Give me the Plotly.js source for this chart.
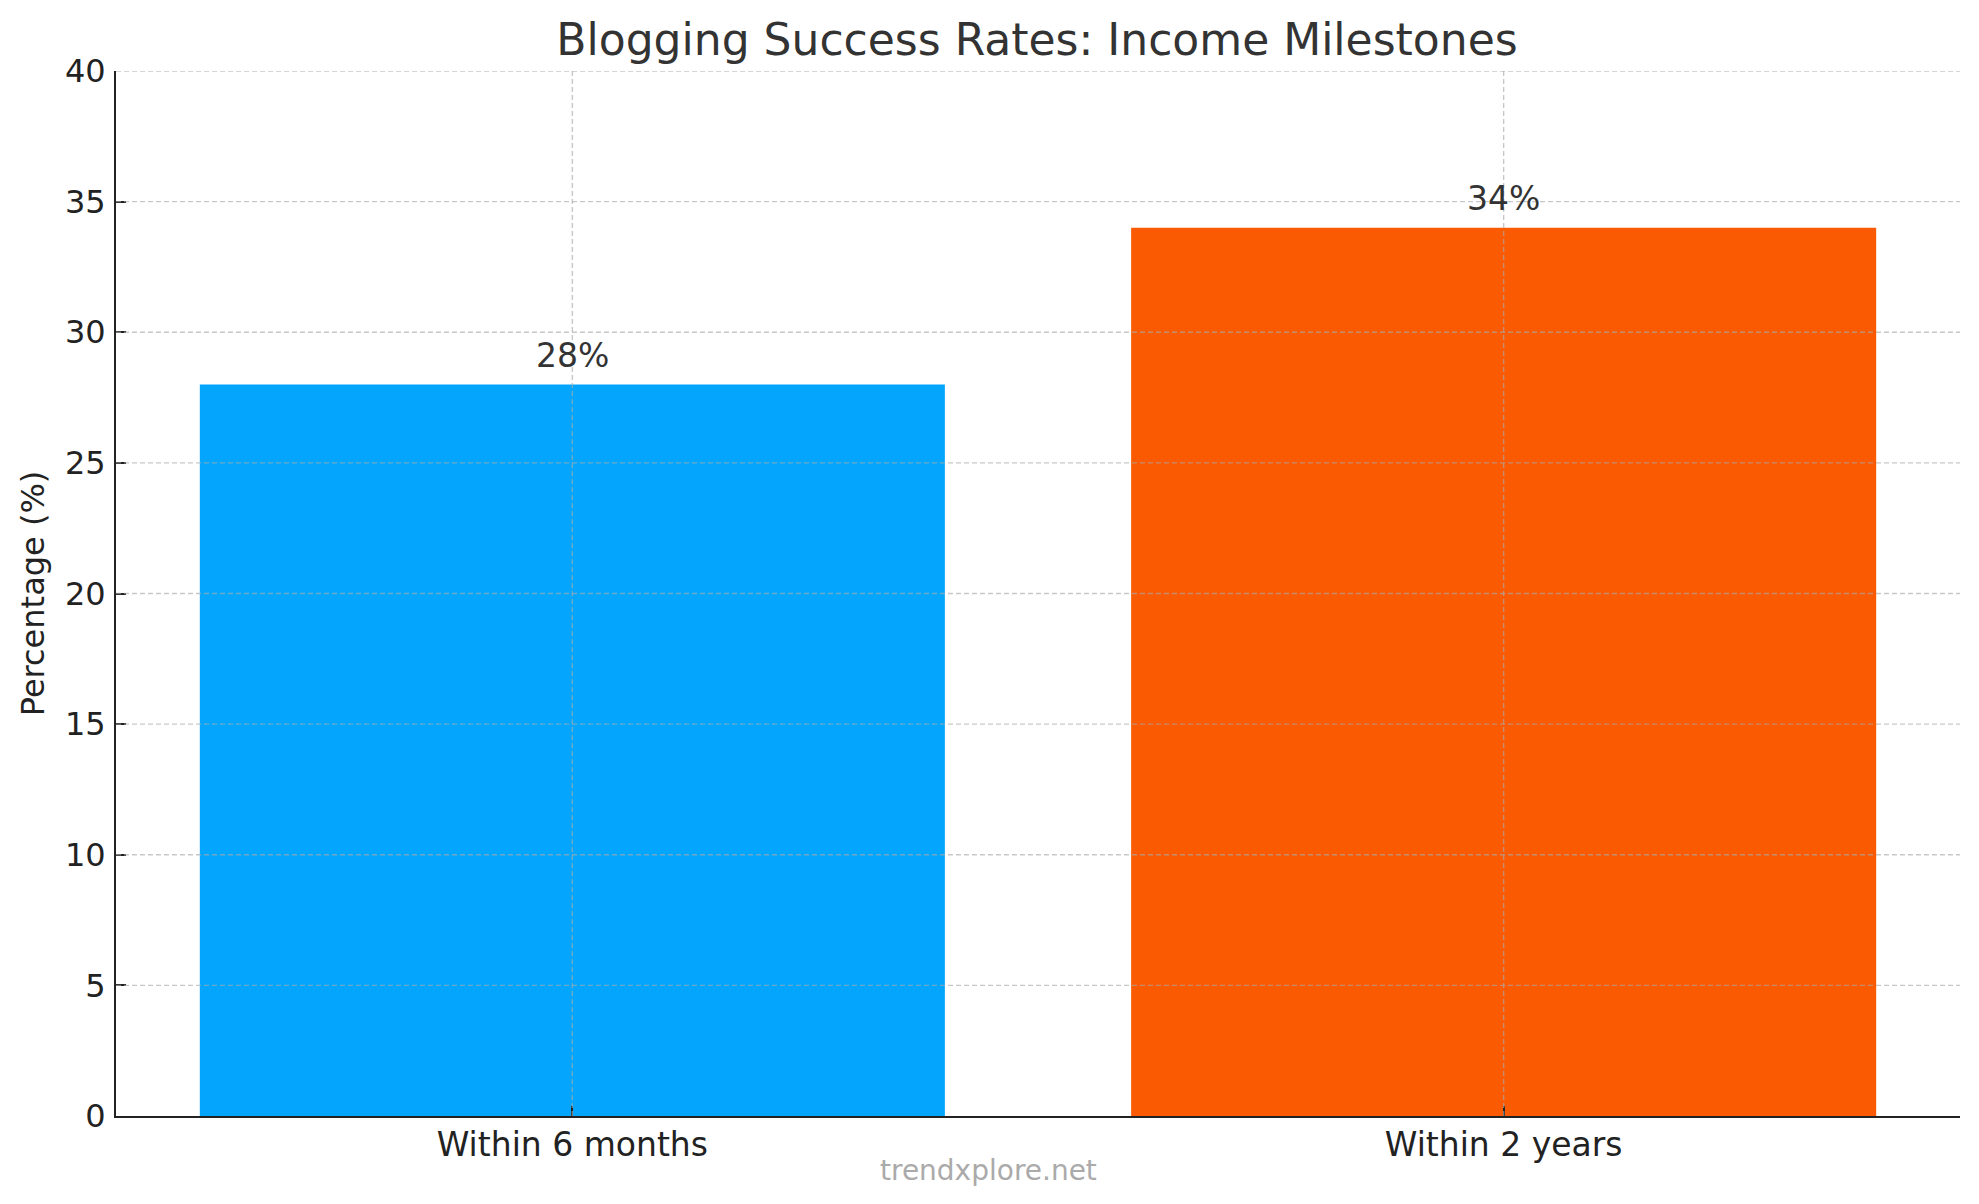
<!DOCTYPE html>
<html>
<head>
<meta charset="utf-8">
<script src="https://cdn.plot.ly/plotly-3.0.1.min.js"></script>
<style>html,body{margin:0;padding:0;background:#fff;}#chart{width:1979px;height:1204px;}</style>
</head>
<body>
<div id="chart"></div>
<script>
const categories = ["Within 6 months", "Within 2 years"];
const percentages = [28, 34];
const barColors = ["#03A6FC", "#FA5A02"];
const yTickValues = [0, 5, 10, 15, 20, 25, 30, 35, 40];
const chartTitle = "Blogging Success Rates: Income Milestones";
const yAxisTitle = "Percentage (%)";
const watermark = "trendxplore.net";

const FONT = "DejaVu Sans, Verdana, sans-serif";
const gridColor = "rgba(170,170,170,0.65)";

const trace = {
  type: "bar",
  x: categories,
  y: percentages,
  width: 0.8,
  marker: { color: barColors, line: { width: 0 } },
  hoverinfo: "skip"
};

const annotations = categories.map((c, i) => ({
  x: c, y: percentages[i], xref: "x", yref: "y",
  text: percentages[i] + "%",
  showarrow: false, yanchor: "bottom", yshift: 8,
  font: { family: FONT, size: 33, color: "#333333" }
}));
annotations.push({
  x: 0.4734, y: -0.052, xref: "paper", yref: "paper",
  text: watermark, showarrow: false, xanchor: "center", yanchor: "middle",
  font: { family: FONT, size: 28, color: "#aaaaaa" }
});

const shapes = [];
yTickValues.forEach(v => {
  if (v === 0) return;
  shapes.push({ type: "line", xref: "paper", yref: "y", x0: 0, x1: 1, y0: v, y1: v,
    layer: "above", line: { color: gridColor, width: 1.4, dash: "5px,3px" } });
});
categories.forEach(c => {
  shapes.push({ type: "line", xref: "x", yref: "paper", x0: c, x1: c, y0: 0, y1: 1,
    layer: "above", line: { color: gridColor, width: 1.4, dash: "5px,3px" } });
});

const layout = {
  width: 1979, height: 1204,
  margin: { l: 116, r: 19, t: 71, b: 88, pad: 0 },
  paper_bgcolor: "#ffffff", plot_bgcolor: "#ffffff",
  font: { family: FONT, color: "#222222" },
  showlegend: false,
  title: {
    text: chartTitle, x: 1037 / 1979, xanchor: "center",
    y: 1 - 40 / 1204, yanchor: "middle", yref: "container",
    font: { family: FONT, size: 44, color: "#333333" }
  },
  xaxis: {
    type: "category", range: [-0.49, 1.49],
    showgrid: false, zeroline: false,
    showline: true, linecolor: "#222222", linewidth: 2,
    ticks: "inside", ticklen: 10, tickwidth: 2, tickcolor: "#222222",
    tickfont: { family: FONT, size: 33, color: "#222222" },
    ticklabelstandoff: -2,
    fixedrange: true
  },
  yaxis: {
    range: [0, 40], tickvals: yTickValues, ticktext: yTickValues.map(String),
    showgrid: false, zeroline: false,
    showline: true, linecolor: "#222222", linewidth: 2,
    ticks: "inside", ticklen: 10, tickwidth: 2, tickcolor: "#222222",
    tickfont: { family: FONT, size: 32, color: "#222222" },
    ticklabelstandoff: 2,
    title: { text: yAxisTitle, standoff: 11, font: { family: FONT, size: 32, color: "#222222" } },
    automargin: false,
    fixedrange: true
  },
  annotations: annotations,
  shapes: shapes,
  bargap: 0.2
};

Plotly.newPlot("chart", [trace], layout, { staticPlot: true, displayModeBar: false });
</script>
</body>
</html>
